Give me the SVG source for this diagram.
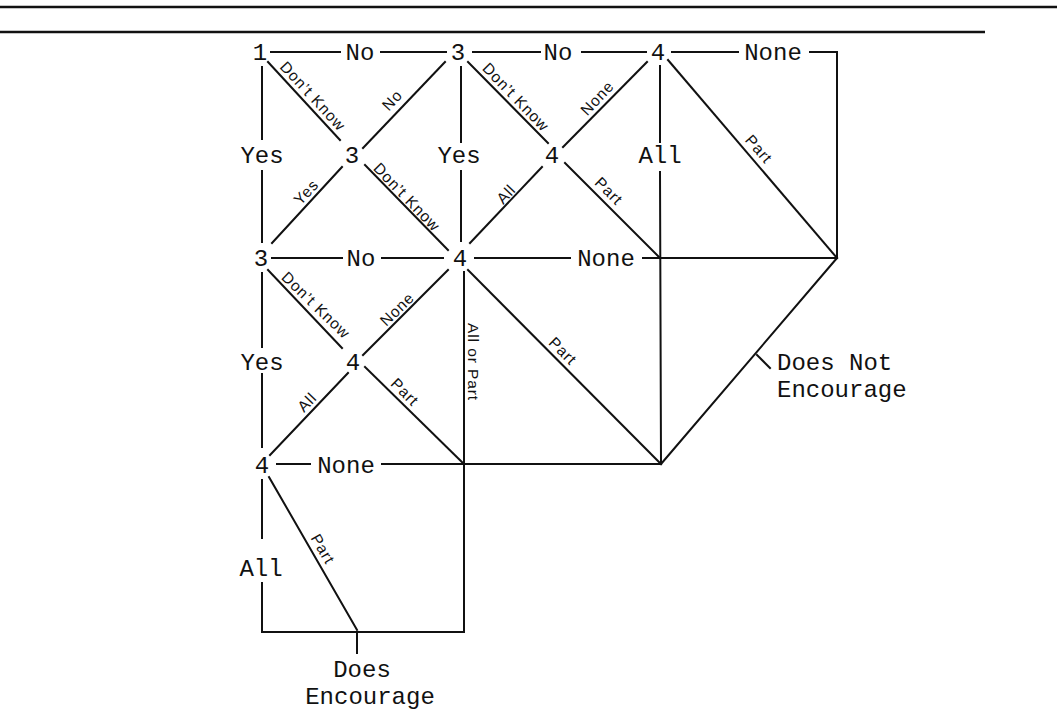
<svg xmlns="http://www.w3.org/2000/svg" width="1057" height="711" viewBox="0 0 1057 711">
<style>
.ln{stroke:#111;stroke-width:2;fill:none;stroke-linecap:square}
.rule{stroke:#111;stroke-width:2.5;fill:none}
.m{font-family:"Liberation Mono","Courier New",monospace;font-size:24px;fill:#111;text-anchor:middle}
.ms{font-family:"Liberation Mono","Courier New",monospace;font-size:24px;fill:#111}
.s{font-family:"Liberation Sans",Arial,sans-serif;font-size:15.5px;fill:#111;text-anchor:middle;dominant-baseline:central;letter-spacing:0.9px}
</style>
<rect width="1057" height="711" fill="#fff"/>
<g id="rules">
<line class="rule" x1="0" y1="7" x2="1057" y2="7"/>
<line class="rule" x1="0" y1="32" x2="985" y2="32"/>
</g>
<g id="connectors">
<line class="ln" x1="271" y1="52" x2="340" y2="52"/>
<line class="ln" x1="381" y1="52" x2="446" y2="52"/>
<line class="ln" x1="473" y1="52" x2="540" y2="52"/>
<line class="ln" x1="582" y1="52" x2="646" y2="52"/>
<line class="ln" x1="672" y1="52" x2="738" y2="52"/>
<path class="ln" d="M810,52 H837 V258"/>
<line class="ln" x1="262" y1="67" x2="262" y2="139"/>
<line class="ln" x1="262" y1="171" x2="262" y2="242"/>
<line class="ln" x1="262" y1="273" x2="262" y2="347"/>
<line class="ln" x1="262" y1="374" x2="262" y2="447"/>
<line class="ln" x1="262" y1="480" x2="262" y2="538"/>
<path class="ln" d="M262,583 V632 H464 V272"/>
<line class="ln" x1="357" y1="632" x2="357" y2="653"/>
<line class="ln" x1="461" y1="67" x2="461" y2="142"/>
<line class="ln" x1="461" y1="171" x2="461" y2="241"/>
<line class="ln" x1="660" y1="66" x2="660" y2="142"/>
<line class="ln" x1="660" y1="172" x2="661" y2="463"/>
<line class="ln" x1="272" y1="258" x2="342" y2="258"/>
<line class="ln" x1="382" y1="258" x2="443" y2="258"/>
<line class="ln" x1="475" y1="258" x2="570" y2="258"/>
<line class="ln" x1="643" y1="258" x2="837" y2="258"/>
<line class="ln" x1="277" y1="464" x2="310" y2="464"/>
<line class="ln" x1="382" y1="464" x2="661" y2="464"/>
<line class="ln" x1="268" y1="62" x2="340" y2="140"/>
<line class="ln" x1="445" y1="62" x2="363" y2="148"/>
<line class="ln" x1="342" y1="167" x2="272" y2="243"/>
<line class="ln" x1="365" y1="165" x2="448" y2="250"/>
<line class="ln" x1="468" y1="62" x2="548" y2="143"/>
<line class="ln" x1="647" y1="62" x2="563" y2="147"/>
<line class="ln" x1="542" y1="167" x2="470" y2="243"/>
<line class="ln" x1="565" y1="163" x2="660" y2="258"/>
<line class="ln" x1="668" y1="60" x2="837" y2="258"/>
<line class="ln" x1="268" y1="270" x2="342" y2="348"/>
<line class="ln" x1="448" y1="270" x2="363" y2="355"/>
<line class="ln" x1="348" y1="373" x2="270" y2="455"/>
<line class="ln" x1="365" y1="367" x2="464" y2="464"/>
<line class="ln" x1="468" y1="270" x2="661" y2="464"/>
<line class="ln" x1="269" y1="477" x2="357" y2="630"/>
<line class="ln" x1="661" y1="464" x2="837" y2="258"/>
<line class="ln" x1="757" y1="355" x2="770" y2="368"/>
</g>
<g id="edge-labels">
<text class="s" transform="translate(313,96) rotate(47)">Don’t Know</text>
<text class="s" transform="translate(392,100) rotate(-47)">No</text>
<text class="s" transform="translate(306,192) rotate(-47)">Yes</text>
<text class="s" transform="translate(407,197) rotate(46)">Don’t Know</text>
<text class="s" transform="translate(516,97) rotate(46)">Don’t Know</text>
<text class="s" transform="translate(597,98) rotate(-47)">None</text>
<text class="s" transform="translate(506,194) rotate(-47)">All</text>
<text class="s" transform="translate(609,191) rotate(45)">Part</text>
<text class="s" transform="translate(759,149) rotate(49)">Part</text>
<text class="s" transform="translate(316,305) rotate(44)">Don’t Know</text>
<text class="s" transform="translate(397,309) rotate(-44)">None</text>
<text class="s" transform="translate(473,362) rotate(90)">All or Part</text>
<text class="s" transform="translate(563,351) rotate(45)">Part</text>
<text class="s" transform="translate(307,402) rotate(-46)">All</text>
<text class="s" transform="translate(405,392) rotate(45)">Part</text>
<text class="s" transform="translate(323,549) rotate(60)">Part</text>
</g>
<g id="main-labels">
<text class="m" x="360" y="60">No</text>
<text class="m" x="558" y="60">No</text>
<text class="m" x="773" y="60">None</text>
<text class="m" x="262" y="163">Yes</text>
<text class="m" x="459" y="163">Yes</text>
<text class="m" x="660" y="163">All</text>
<text class="m" x="361" y="266">No</text>
<text class="m" x="606" y="266">None</text>
<text class="m" x="262" y="370">Yes</text>
<text class="m" x="346" y="473">None</text>
<text class="m" x="261" y="576">All</text>
</g>
<g id="n1"><text class="m" x="260" y="60">1</text></g>
<g id="n3a"><text class="m" x="458" y="60">3</text></g>
<g id="n4a"><text class="m" x="658" y="60">4</text></g>
<g id="n3b"><text class="m" x="352" y="163">3</text></g>
<g id="n4b"><text class="m" x="552" y="163">4</text></g>
<g id="n3c"><text class="m" x="261" y="266">3</text></g>
<g id="n4c"><text class="m" x="460" y="266">4</text></g>
<g id="n4d"><text class="m" x="353" y="370">4</text></g>
<g id="n4e"><text class="m" x="262" y="473">4</text></g>
<g id="does-not-encourage">
<text class="ms" x="777" y="370">Does Not</text>
<text class="ms" x="777" y="397">Encourage</text>
</g>
<g id="does-encourage">
<text class="m" x="362" y="677">Does</text>
<text class="m" x="370" y="704">Encourage</text>
</g>
</svg>
